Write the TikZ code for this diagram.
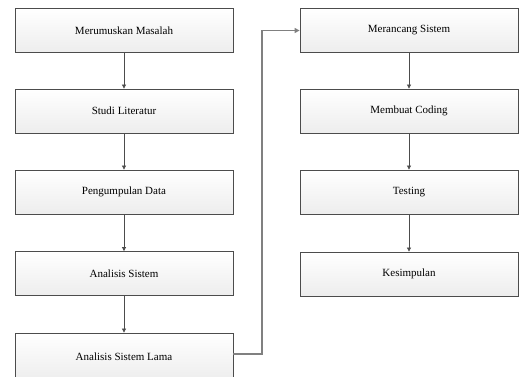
\documentclass[tikz,border=0pt]{standalone}
\usepackage{fontspec}
\setmainfont{Liberation Serif}
\usetikzlibrary{arrows.meta}
\begin{document}
\begin{tikzpicture}[x=1pt,y=-1pt,
  stepbox/.style={draw=black!70, line width=0.8pt, top color=white, bottom color=black!7,
    minimum width=218pt, minimum height=44pt, inner sep=0pt, font=\fontsize{11}{13}\selectfont, text=black},
  flow/.style={draw=black!70, line width=0.7pt, -{Triangle[length=4pt,width=4pt]}},
  link/.style={line width=1.4pt, -{Triangle[length=5pt,width=5pt]}, color=black!50}]
\useasboundingbox (0,0) rectangle (519,377);
\begin{scope}
\clip (0,0) rectangle (519,377);
\node[stepbox] (a) at (124,30.5) {Merumuskan Masalah};
\node[stepbox] (b) at (124,111) {Studi Literatur};
\node[stepbox] (c) at (124,192) {Pengumpulan Data};
\node[stepbox] (d) at (124,273.5) {Analisis Sistem};
\node[stepbox, minimum height=48pt] (e) at (124,357) {Analisis Sistem Lama};
\node[stepbox] (f) at (409,30.5) {Merancang Sistem};
\node[stepbox] (g) at (409,111) {Membuat Coding};
\node[stepbox] (h) at (409,192) {Testing};
\node[stepbox] (i) at (409,274) {Kesimpulan};
\end{scope}
\draw[flow] (a) -- (b);
\draw[flow] (b) -- (c);
\draw[flow] (c) -- (d);
\draw[flow] (d) -- (e.north);
\draw[flow] (f) -- (g);
\draw[flow] (g) -- (h);
\draw[flow] (h) -- (i);
\coordinate (k1) at (262,354);
\coordinate (k2) at (262,30.5);
\draw[link] (e.east |- k1) -- (k1) -- (k2) -- (f.west);
\end{tikzpicture}
\end{document}
